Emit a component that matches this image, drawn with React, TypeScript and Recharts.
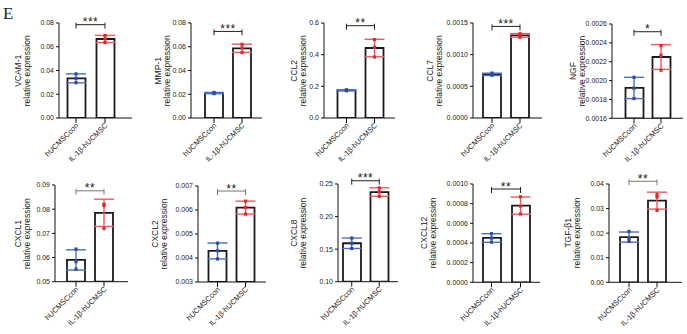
import React from 'react';
import { ComposedChart, Bar, Scatter, ErrorBar, XAxis, YAxis, ReferenceLine } from 'recharts';

const CATEGORIES = ['hUCMSCcon', 'IL-1β-hUCMSC'];
const GENES = ['VCAM-1', 'MMP-1', 'CCL2', 'CCL7', 'NGF', 'CXCL1', 'CXCL2', 'CXCL8', 'CXCL12', 'TGF-β1'];

// replicate values (con, IL-1β)
const vcamCon = [0.0372, 0.0297, 0.0333];
const vcamIL = [0.0695, 0.0666, 0.0635];
const mmpCon = [0.0215, 0.0205, 0.021];
const mmpIL = [0.062, 0.059, 0.0551];
const ccl2Con = [0.178, 0.172, 0.175];
const ccl2IL = [0.495, 0.446, 0.385];
const ccl7Con = [0.00071, 0.00068, 0.000678];
const ccl7IL = [0.00133, 0.00131, 0.001275];
const ngfCon = [0.002035, 0.00181, 0.00192];
const ngfIL = [0.00237, 0.00227, 0.00211];
const cxcl1Con = [0.0635, 0.0552, 0.0583];
const cxcl1IL = [0.082, 0.0815, 0.072];
const cxcl2Con = [0.00462, 0.0043, 0.00396];
const cxcl2IL = [0.00637, 0.0061, 0.00583];
const cxcl8Con = [0.167, 0.159, 0.151];
const cxcl8IL = [0.244, 0.238, 0.231];
const cxcl12Con = [0.000495, 0.00045, 0.000408];
const cxcl12IL = [0.00087, 0.000775, 0.000695];
const tgfCon = [0.0207, 0.0178, 0.0167];
const tgfIL = [0.0357, 0.0347, 0.0293];

const CON_VALUES = [vcamCon, mmpCon, ccl2Con, ccl7Con, ngfCon, cxcl1Con, cxcl2Con, cxcl8Con, cxcl12Con, tgfCon];
const IL_VALUES = [vcamIL, mmpIL, ccl2IL, ccl7IL, ngfIL, cxcl1IL, cxcl2IL, cxcl8IL, cxcl12IL, tgfIL];

// y ticks and labels
const TICKS = [
  [0, 0.02, 0.04, 0.06, 0.08],
  [0, 0.02, 0.04, 0.06, 0.08],
  [0, 0.2, 0.4, 0.6],
  [0, 0.0005, 0.001, 0.0015],
  [0.0016, 0.0018, 0.002, 0.0022, 0.0024, 0.0026],
  [0.05, 0.06, 0.07, 0.08, 0.09],
  [0.003, 0.004, 0.005, 0.006, 0.007],
  [0.1, 0.15, 0.2, 0.25],
  [0, 0.0002, 0.0004, 0.0006, 0.0008, 0.001],
  [0, 0.01, 0.02, 0.03, 0.04],
];
const TICK_LABELS = [
  ['0.00', '0.02', '0.04', '0.06', '0.08'],
  ['0.00', '0.02', '0.04', '0.06', '0.08'],
  ['0.0', '0.2', '0.4', '0.6'],
  ['0.0000', '0.0005', '0.0010', '0.0015'],
  ['0.0016', '0.0018', '0.0020', '0.0022', '0.0024', '0.0026'],
  ['0.05', '0.06', '0.07', '0.08', '0.09'],
  ['0.003', '0.004', '0.005', '0.006', '0.007'],
  ['0.10', '0.15', '0.20', '0.25'],
  ['0.0000', '0.0002', '0.0004', '0.0006', '0.0008', '0.0010'],
  ['0.00', '0.01', '0.02', '0.03', '0.04'],
];
const SIGNIF = ['***', '***', '**', '***', '*', '**', '**', '***', '**', '**'];
const BRACKET_LEVEL = [0.0786, 0.0729, 0.583, 0.001446, 0.002518, 0.0876, 0.00679, 0.255, 0.000949, 0.0411];

// layout (pixels)
const LAYOUT = [
  { axisX: 59, c1: 76, c2: 105, xEnd: 132, top: 23.3, bottom: 118.3, lab: -40.7, bc: '#222' },
  { axisX: 191, c1: 214, c2: 242, xEnd: 262, top: 23.3, bottom: 118.3, lab: -32.7, bc: '#222' },
  { axisX: 324, c1: 346.5, c2: 374.5, xEnd: 395, top: 23.3, bottom: 118.3, lab: -30, bc: '#222' },
  { axisX: 473, c1: 492, c2: 520, xEnd: 542, top: 23.3, bottom: 118.3, lab: -43.3, bc: '#222' },
  { axisX: 612, c1: 634, c2: 661, xEnd: 683, top: 24, bottom: 118.3, lab: -39.3, bc: '#222' },
  { axisX: 55, c1: 76, c2: 104, xEnd: 128, top: 185.3, bottom: 282, lab: -36.7, bc: '#777' },
  { axisX: 198, c1: 217.5, c2: 245.5, xEnd: 266, top: 186, bottom: 282, lab: -43.3, bc: '#777' },
  { axisX: 338, c1: 351, c2: 379, xEnd: 398, top: 184.3, bottom: 282, lab: -43.7, bc: '#222' },
  { axisX: 473, c1: 491.5, c2: 520.5, xEnd: 540, top: 183.7, bottom: 282, lab: -48.7, bc: '#222' },
  { axisX: 609, c1: 629, c2: 657, xEnd: 682, top: 183.7, bottom: 282, lab: -40.7, bc: '#777' },
];

const FONT = '"Liberation Sans", Arial, sans-serif';
const BLUE = '#2b4ea3';
const RED = '#e3262c';
const BLUE_ERR = '#4d6cbc';
const RED_ERR = '#ec5a5e';
const MT = 20;
const AXW = 60;
const XH = 50;

const mean = (a: number[]) => a.reduce((s, v) => s + v, 0) / a.length;
const sd = (a: number[]) => {
  const m = mean(a);
  return Math.sqrt(a.reduce((s, v) => s + (v - m) * (v - m), 0) / (a.length - 1));
};

const XTick = (props: any) => {
  const { x, y, payload } = props;
  return (
    <g transform={`translate(${x + 3},${y + 1})`}>
      <text x={0} y={0} textAnchor="end" transform="rotate(-45)" fontSize={7.5} fill="#222" fontFamily={FONT}>
        {payload.value}
      </text>
    </g>
  );
};

const PointShape = (props: any) => {
  const { cx, cy, payload } = props;
  if (cx == null || cy == null || isNaN(cx) || isNaN(cy)) return <g />;
  const c = payload.name === CATEGORIES[0] ? BLUE : RED;
  return <rect x={cx - 1.6} y={cy - 1.6} width={3.2} height={3.2} fill={c} />;
};

const Nothing = () => <g />;

const makeBracket = (stars: string, color: string) => (p: any) => {
  const { x1, y1, x2 } = p;
  if (x1 == null || isNaN(x1)) return <g />;
  return (
    <g>
      <path d={`M${x1},${y1 - 2}V${y1 + 4}M${x1},${y1}H${x2}M${x2},${y1 - 2}V${y1 + 4}`} stroke={color} strokeWidth={1} fill="none" />
      <text x={(x1 + x2) / 2} y={y1 + 1.5} textAnchor="middle" fontSize={12} fill="#222" fontFamily={FONT} letterSpacing={0.5}>
        {stars}
      </text>
    </g>
  );
};

function Panel({ idx }: { idx: number }) {
  const L = LAYOUT[idx];
  const con = CON_VALUES[idx];
  const il = IL_VALUES[idx];
  const groups = [con, il];
  const data = CATEGORIES.map((name, i) => {
    const vals = groups[i];
    const m = mean(vals);
    const s = sd(vals);
    return {
      name,
      mean: m,
      p1: vals[0],
      p2: vals[1],
      p3: vals[2],
      meanCon: i === 0 ? m : null,
      errCon: i === 0 ? s : undefined,
      meanIL: i === 1 ? m : null,
      errIL: i === 1 ? s : undefined,
    };
  });
  const ticks = TICKS[idx];
  const labels = TICK_LABELS[idx];
  const w = L.c2 - L.c1;
  const padL = Math.max(0, L.c1 - L.axisX - w / 2);
  const padR = Math.max(0, L.xEnd - L.c2 - w / 2);
  const width = L.xEnd - L.axisX + AXW + 1;
  const height = L.bottom - L.top + MT + XH;
  return (
    <div style={{ position: 'absolute', left: L.axisX - AXW, top: L.top - MT, width, height }}>
      <ComposedChart width={width} height={height} data={data} margin={{ top: MT, right: 1, bottom: 0, left: 0 }}>
        <XAxis
          dataKey="name"
          type="category"
          padding={{ left: padL, right: padR }}
          tick={<XTick />}
          tickSize={5}
          interval={0}
          height={XH}
          axisLine={{ stroke: '#111', strokeWidth: 1 }}
          tickLine={{ stroke: '#111', strokeWidth: 1 }}
        />
        <YAxis
          type="number"
          domain={[ticks[0], ticks[ticks.length - 1]]}
          allowDataOverflow
          ticks={ticks}
          interval={0}
          tickFormatter={(v: number, i: number) => labels[i] ?? String(v)}
          width={AXW}
          tickSize={3}
          tickMargin={2}
          tick={{ fontSize: 7, fill: '#222', fontFamily: FONT }}
          axisLine={{ stroke: '#111', strokeWidth: 1 }}
          tickLine={{ stroke: '#111', strokeWidth: 1 }}
        />
        <Bar dataKey="mean" barSize={18} fill="#ffffff" stroke="#1a1a1a" strokeWidth={1.8} isAnimationActive={false} />
        <Scatter dataKey="meanCon" shape={Nothing} isAnimationActive={false} legendType="none">
          <ErrorBar dataKey="errCon" direction="y" width={10} stroke={BLUE_ERR} strokeWidth={1.4} />
        </Scatter>
        <Scatter dataKey="meanIL" shape={Nothing} isAnimationActive={false} legendType="none">
          <ErrorBar dataKey="errIL" direction="y" width={10} stroke={RED_ERR} strokeWidth={1.4} />
        </Scatter>
        <Scatter dataKey="p1" shape={PointShape} isAnimationActive={false} legendType="none" />
        <Scatter dataKey="p2" shape={PointShape} isAnimationActive={false} legendType="none" />
        <Scatter dataKey="p3" shape={PointShape} isAnimationActive={false} legendType="none" />
        <ReferenceLine
          segment={[
            { x: CATEGORIES[0], y: BRACKET_LEVEL[idx] },
            { x: CATEGORIES[1], y: BRACKET_LEVEL[idx] },
          ]}
          ifOverflow="visible"
          shape={makeBracket(SIGNIF[idx], L.bc)}
        />
      </ComposedChart>
    </div>
  );
}

export default function App() {
  return (
    <div style={{ position: 'absolute', left: 0, top: 0, width: 687, height: 334, background: '#fff', overflow: 'hidden' }}>
      {GENES.map((g, i) => (
        <Panel key={g} idx={i} />
      ))}
      <svg width={687} height={334} style={{ position: 'absolute', left: 0, top: 0, pointerEvents: 'none' }}>
        <text x={3} y={19} fontSize={17} fontFamily='"Liberation Serif", "Times New Roman", serif' fill="#222">
          E
        </text>
        {GENES.map((g, i) => {
          const L = LAYOUT[i];
          const cx = L.axisX + L.lab + 3;
          const cy = (L.top + L.bottom) / 2;
          return (
            <text key={g} transform={`translate(${cx},${cy}) rotate(-90)`} textAnchor="middle" fontFamily={FONT} fill="#222" fontSize={8.5}>
              <tspan x={0} dy={0}>{g}</tspan>
              <tspan x={0} dy={9}>relative expression</tspan>
            </text>
          );
        })}
      </svg>
    </div>
  );
}
